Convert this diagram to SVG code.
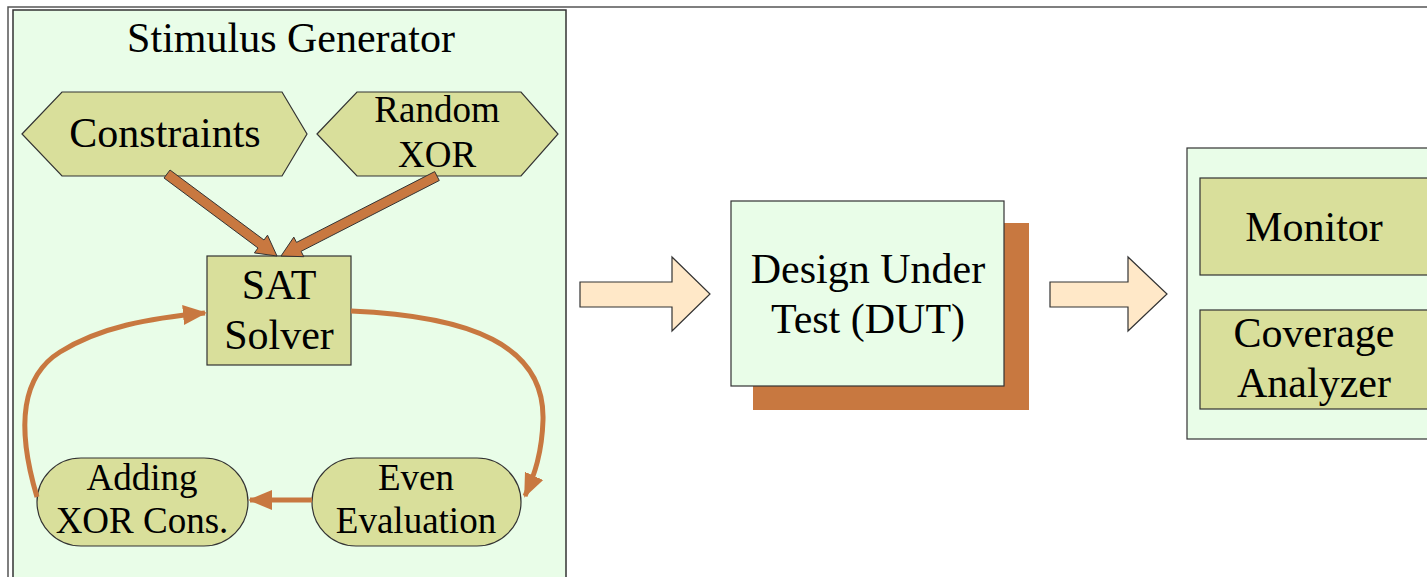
<svg xmlns="http://www.w3.org/2000/svg" width="1427" height="577" viewBox="0 0 1427 577">
<style>
.t{font-family:"Liberation Serif","Times New Roman",serif;fill:#000;text-anchor:middle}
.big{font-size:42px}
.mid{font-size:37px}
.node{fill:#d9df9b;stroke:#333;stroke-width:1.2}
.cont{fill:#e9fde8;stroke:#333;stroke-width:1.5}
.orange{fill:#c87840}
.flow{fill:none;stroke:#c87840;stroke-width:5}
.block{fill:#ffe8c8;stroke:#333;stroke-width:1.2}
.thick{fill:#c87840;stroke:#333;stroke-width:1}
</style>
<defs>
<marker id="ah" markerUnits="userSpaceOnUse" markerWidth="24" markerHeight="24" viewBox="0 0 24 24" refX="22" refY="12" orient="auto">
<path d="M0,2 L24,12 L0,22 Z" fill="#c87840"/>
</marker>
</defs>
<rect width="1427" height="577" fill="#fff"/>
<g id="frame">
<path d="M8,577 V7 H1427" fill="none" stroke="#555" stroke-width="1.5"/>
</g>
<g id="stimulus-generator">
<rect class="cont" x="13" y="10" width="553" height="572"/>
<text class="t big" x="291" y="52">Stimulus Generator</text>
</g>
<g id="constraints">
<polygon class="node" points="22,134 62,92 282,92 307,134 282,176 62,176"/>
<text class="t big" x="165" y="147">Constraints</text>
</g>
<g id="random-xor">
<polygon class="node" points="317,134 357,92 521,92 558,134 521,176 357,176"/>
<text class="t mid" x="437" y="122">Random</text>
<text class="t mid" x="437" y="167">XOR</text>
</g>
<g id="sat-solver">
<rect class="node" x="207" y="256" width="144" height="109"/>
<text class="t big" x="279" y="299">SAT</text>
<text class="t big" x="279" y="349">Solver</text>
</g>
<g id="adding-xor">
<rect class="node" x="37" y="458" width="211" height="88" rx="44" ry="44"/>
<text class="t mid" x="142" y="490">Adding</text>
<text class="t mid" x="142" y="533">XOR Cons.</text>
</g>
<g id="even-evaluation">
<rect class="node" x="312" y="458" width="209" height="88" rx="44" ry="44"/>
<text class="t mid" x="416" y="490">Even</text>
<text class="t mid" x="416" y="533">Evaluation</text>
</g>
<g id="dut">
<rect class="orange" x="753" y="223" width="276" height="187"/>
<rect class="cont" x="731" y="201" width="273" height="185" style="stroke-width:1.2"/>
<text class="t big" x="868" y="283">Design Under</text>
<text class="t big" x="868" y="333">Test (DUT)</text>
</g>
<g id="checker">
<rect class="cont" x="1187" y="148" width="260" height="291" style="stroke-width:1.2"/>
</g>
<g id="monitor">
<rect class="node" x="1200" y="178" width="250" height="97"/>
<text class="t big" x="1314" y="241">Monitor</text>
</g>
<g id="coverage-analyzer">
<rect class="node" x="1200" y="310" width="250" height="99"/>
<text class="t big" x="1314" y="347">Coverage</text>
<text class="t big" x="1314" y="397">Analyzer</text>
</g>
<g id="connectors">
<polygon class="thick" points="170,170 264,240 267.5,235.2 277,256 254.4,252.9 258,248 164,178"/>
<polygon class="thick" points="434.7,171.6 296.5,242.4 293.8,237.1 281,256 303.8,256.7 301.1,251.3 439.3,180.5"/>
<path class="flow" d="M351,311 C470,316 545,345 543,420 C542,452 535,474 525,496" marker-end="url(#ah)"/>
<path class="flow" d="M37,497 C20,440 15,380 60,352 C100,327 150,318 205,313" marker-end="url(#ah)"/>
<path class="flow" d="M312,500 H250" marker-end="url(#ah)"/>
<polygon class="block" points="580,282 672,282 672,257 710,294 672,331 672,307 580,307"/>
<polygon class="block" points="1050,282 1128,282 1128,257 1167,294 1128,331 1128,307 1050,307"/>
</g>
</svg>
